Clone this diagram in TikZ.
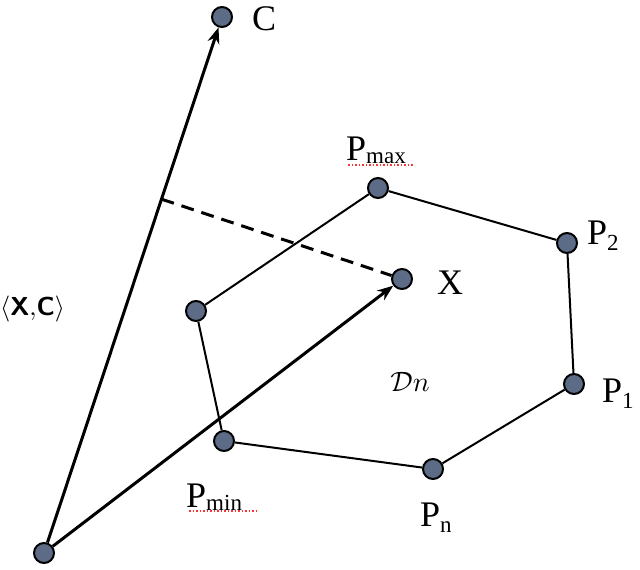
\documentclass[tikz,border=0pt]{standalone}
\usepackage{fontspec}
\setmainfont{Liberation Serif}
\usetikzlibrary{calc,arrows.meta}
\definecolor{dotc}{RGB}{92,108,135}
\begin{document}
\begin{tikzpicture}[x=1pt,y=-1pt,
  pt/.style={circle,draw=black,line width=2pt,fill=dotc,inner sep=0pt,minimum size=20pt},
  edge/.style={line width=2pt},
  vec/.style={line width=3pt,-{Stealth[length=16pt,width=12pt]}},
  lbl/.style={font=\fontsize{36}{40}\selectfont,inner sep=0pt}]
\useasboundingbox (0,0) rectangle (640,570);
\node[pt] (C) at (222,17) {};
\node[pt] (Pmax) at (378,188) {};
\node[pt] (P2) at (567,243) {};
\node[pt] (X) at (402,279) {};
\node[pt] (L) at (196,311) {};
\node[pt] (P1) at (574,384) {};
\node[pt] (Pmin) at (224,441) {};
\node[pt] (Pn) at (433,469) {};
\node[pt] (O) at (44,553) {};
\draw[edge] (Pmax) -- (P2) -- (P1) -- (Pn) -- (Pmin) -- (L) -- (Pmax);
\coordinate (F) at ($(O)!(X)!(C)$);
\draw[line width=3pt,dash pattern=on 13pt off 8pt] (F) -- (X);
\draw[vec] (O) -- (C);
\draw[vec] (O) -- (X);
\node[lbl,anchor=west] (lC) at (252,19) {C};
\node[lbl,anchor=west] (lX) at (437,283) {X};
\node[lbl,anchor=west] (lP2) at (587,236) {P\raisebox{-6pt}{\fontsize{23}{26}\selectfont 2}};
\node[lbl,anchor=west] (lP1) at (602,394) {P\raisebox{-6pt}{\fontsize{23}{26}\selectfont 1}};
\node[lbl,anchor=west] (lPn) at (420,518) {P\raisebox{-6pt}{\fontsize{23}{26}\selectfont n}};
\node[lbl,anchor=west] (lPmax) at (346,150) {P\raisebox{-3pt}{\fontsize{23}{26}\selectfont max}};
\node[lbl,anchor=west] (lPmin) at (186,497) {P\raisebox{-3pt}{\fontsize{23}{26}\selectfont min}};
\draw[red!80,line width=1.5pt,dotted] (348,165) -- (414,165);
\draw[red!80,line width=1.5pt,dotted] (189,511) -- (258,511);
\node[inner sep=0pt,anchor=west] (lXC) at (0,309) {\normalsize\scalebox{2.6}{$\langle$\textsf{\textbf{X}}$,$\textsf{\textbf{C}}$\rangle$}};
\node[inner sep=0pt] (lD) at (410,382) {\normalsize\scalebox{2.8}{$\mathcal{D}n$}};
\end{tikzpicture}
\end{document}
